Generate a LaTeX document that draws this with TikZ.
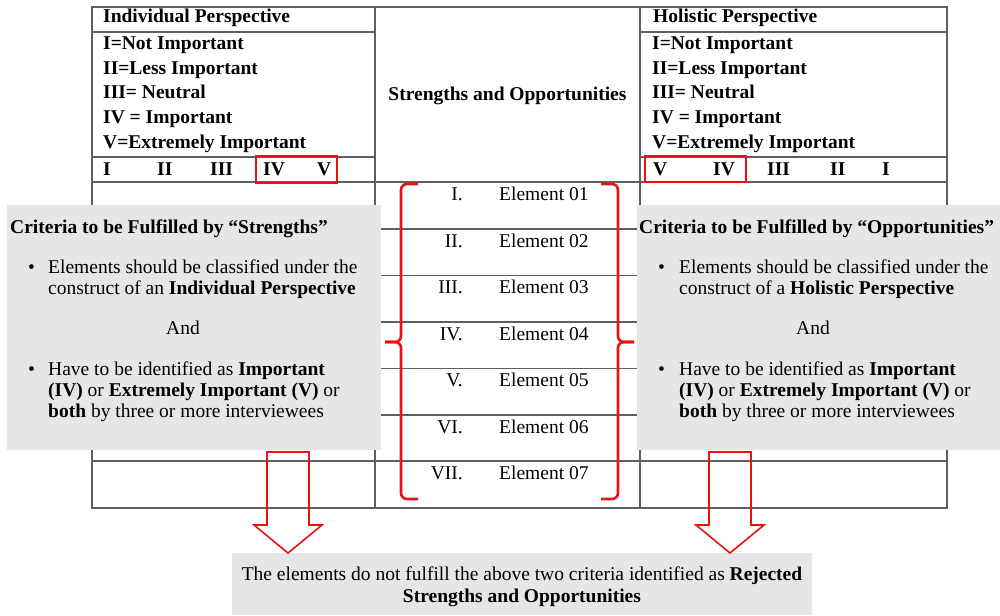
\documentclass[tikz,border=0pt]{standalone}
\usepackage{fontspec}
\setmainfont{Liberation Serif}
\newcommand{\txtsize}{\fontsize{19.5}{21}\selectfont}
\definecolor{tablegray}{RGB}{95,95,95}
\definecolor{markred}{RGB}{236,16,16}
\definecolor{panelgray}{RGB}{230,230,230}
\begin{document}
\begin{tikzpicture}[x=1pt,y=-1pt,
  tline/.style={draw=tablegray,line width=1.2pt},
  redbox/.style={draw=markred,line width=2pt},
  brace/.style={draw=markred,line width=2.6pt,rounded corners=6pt},
  graybox/.style={fill=panelgray,inner sep=0pt,anchor=north west},
  blockarrow/.style={draw=markred,line width=1.6pt,line join=miter},
  lbl/.style={anchor=base west,inner sep=0pt,font=\txtsize},
  lblr/.style={anchor=base east,inner sep=0pt,font=\txtsize},
  lblc/.style={anchor=base,inner sep=0pt,font=\txtsize},
]
\useasboundingbox (0,0) rectangle (1000,615);

% ---- table frame ----
\coordinate (tNW) at (92,7);
\coordinate (tSE) at (947,508);
\draw[tline] (tNW) rectangle (tSE);
\draw[tline] (375,7) -- (375,508);
\draw[tline] (640,7) -- (640,508);
% header rules of the two perspective columns
\foreach \yy in {32,157} {
  \draw[tline] (92,\yy) -- (375,\yy);
  \draw[tline] (640,\yy) -- (947,\yy);
}
% element rows
\foreach \yy in {182,229,275.5,322,368.5,415,461} {
  \draw[tline] (92,\yy) -- (947,\yy);
}

% ---- left header column ----
\node[lbl,font=\txtsize\bfseries] (indH) at (103,23) {Individual Perspective};
\node[lbl,font=\txtsize\bfseries] (indL1) at (103,50) {I=Not Important};
\node[lbl,font=\txtsize\bfseries] (indL2) at (103,75) {II=Less Important};
\node[lbl,font=\txtsize\bfseries] (indL3) at (103,99) {III= Neutral};
\node[lbl,font=\txtsize\bfseries] (indL4) at (103,124) {IV = Important};
\node[lbl,font=\txtsize\bfseries] (indL5) at (103,148) {V=Extremely Important};
\node[lbl,font=\txtsize\bfseries] (indN1) at (103,175) {I};
\node[lbl,font=\txtsize\bfseries] (indN2) at (157,175) {II};
\node[lbl,font=\txtsize\bfseries] (indN3) at (210,175) {III};
\node[lbl,font=\txtsize\bfseries] (indN4) at (263,175) {IV};
\node[lbl,font=\txtsize\bfseries] (indN5) at (317,175) {V};

% ---- middle header ----
\node[lblc,font=\txtsize\bfseries] (midH) at (507.5,100) {Strengths and Opportunities};

% ---- right header column ----
\node[lbl,font=\txtsize\bfseries] (holH) at (653,23) {Holistic Perspective};
\node[lbl,font=\txtsize\bfseries] (holL1) at (652,50) {I=Not Important};
\node[lbl,font=\txtsize\bfseries] (holL2) at (652,75) {II=Less Important};
\node[lbl,font=\txtsize\bfseries] (holL3) at (652,99) {III= Neutral};
\node[lbl,font=\txtsize\bfseries] (holL4) at (652,124) {IV = Important};
\node[lbl,font=\txtsize\bfseries] (holL5) at (652,148) {V=Extremely Important};
\node[lbl,font=\txtsize\bfseries] (holN5) at (653,175) {V};
\node[lbl,font=\txtsize\bfseries] (holN4) at (713,175) {IV};
\node[lbl,font=\txtsize\bfseries] (holN3) at (767,175) {III};
\node[lbl,font=\txtsize\bfseries] (holN2) at (830,175) {II};
\node[lbl,font=\txtsize\bfseries] (holN1) at (882,175) {I};

% highlighted scale values
\draw[redbox] (256,156) rectangle (337,183);
\draw[redbox] (645,156) rectangle (746,182);

% ---- element list ----
\foreach \num/\lab [count=\k] in {I./01,II./02,III./03,IV./04,V./05,VI./06,VII./07} {
  \pgfmathsetmacro{\by}{182+46.5*(\k-1)+18.5}
  \node[lblr] (rn\k) at (463,\by) {\num};
  \node[lbl] (el\k) at (499,\by) {Element \lab};
}

% red braces around the elements
\draw[brace] (418,184) -- (401,184) -- (401,342) -- (385,342);
\draw[brace] (385,342) -- (401,342) -- (401,499) -- (418,499);
\draw[brace] (601,184) -- (618,184) -- (618,342) -- (634,342);
\draw[brace] (634,342) -- (618,342) -- (618,499) -- (601,499);

% ---- criteria panels ----
\node[graybox,minimum width=374pt,minimum height=245pt] (critL) at (7,205) {};
\node[graybox,minimum width=363pt,minimum height=245pt] (critR) at (637,205) {};

\node[lbl,font=\txtsize\bfseries] (cLt) at (10,233) {Criteria to be Fulfilled by “Strengths”};
\node[lbl] (cLb1) at (28,273) {•};
\node[lbl] (cLa1) at (48,273) {Elements should be classified under the};
\node[lbl] (cLa2) at (48,294) {construct of an \textbf{Individual Perspective}};
\node[lblc] (cLand) at (183,334) {And};
\node[lbl] (cLb2) at (28,375) {•};
\node[lbl] (cLc1) at (48,375) {Have to be identified as \textbf{Important}};
\node[lbl] (cLc2) at (48,396) {\textbf{(IV)} or \textbf{Extremely Important (V)} or};
\node[lbl] (cLc3) at (48,417) {\textbf{both} by three or more interviewees};

\node[lbl,font=\txtsize\bfseries] (cRt) at (639,233) {Criteria to be Fulfilled by “Opportunities”};
\node[lbl] (cRb1) at (658,273) {•};
\node[lbl] (cRa1) at (679,273) {Elements should be classified under the};
\node[lbl] (cRa2) at (679,294) {construct of a \textbf{Holistic Perspective}};
\node[lblc] (cRand) at (813,334) {And};
\node[lbl] (cRb2) at (658,375) {•};
\node[lbl] (cRc1) at (679,375) {Have to be identified as \textbf{Important}};
\node[lbl] (cRc2) at (679,396) {\textbf{(IV)} or \textbf{Extremely Important (V)} or};
\node[lbl] (cRc3) at (679,417) {\textbf{both} by three or more interviewees};

% ---- rejected panel ----
\node[graybox,minimum width=580pt,minimum height=62pt] (rej) at (232,553) {};
\node[lblc] (rej1) at (522,580) {The elements do not fulfill the above two criteria identified as \textbf{Rejected}};
\node[lblc,font=\txtsize\bfseries] (rej2) at (522,602) {Strengths and Opportunities};

% ---- hollow block arrows from the panels to the rejected panel ----
\coordinate (aL) at (288,452);
\coordinate (aR) at (730,452);
\foreach \c in {aL,aR} {
  \draw[blockarrow,shift={(\c)}] (-21,0) -- (21,0) -- (21,73) -- (34,73) -- (0,101) -- (-34,73) -- (-21,73) -- cycle;
}
\end{tikzpicture}
\end{document}
